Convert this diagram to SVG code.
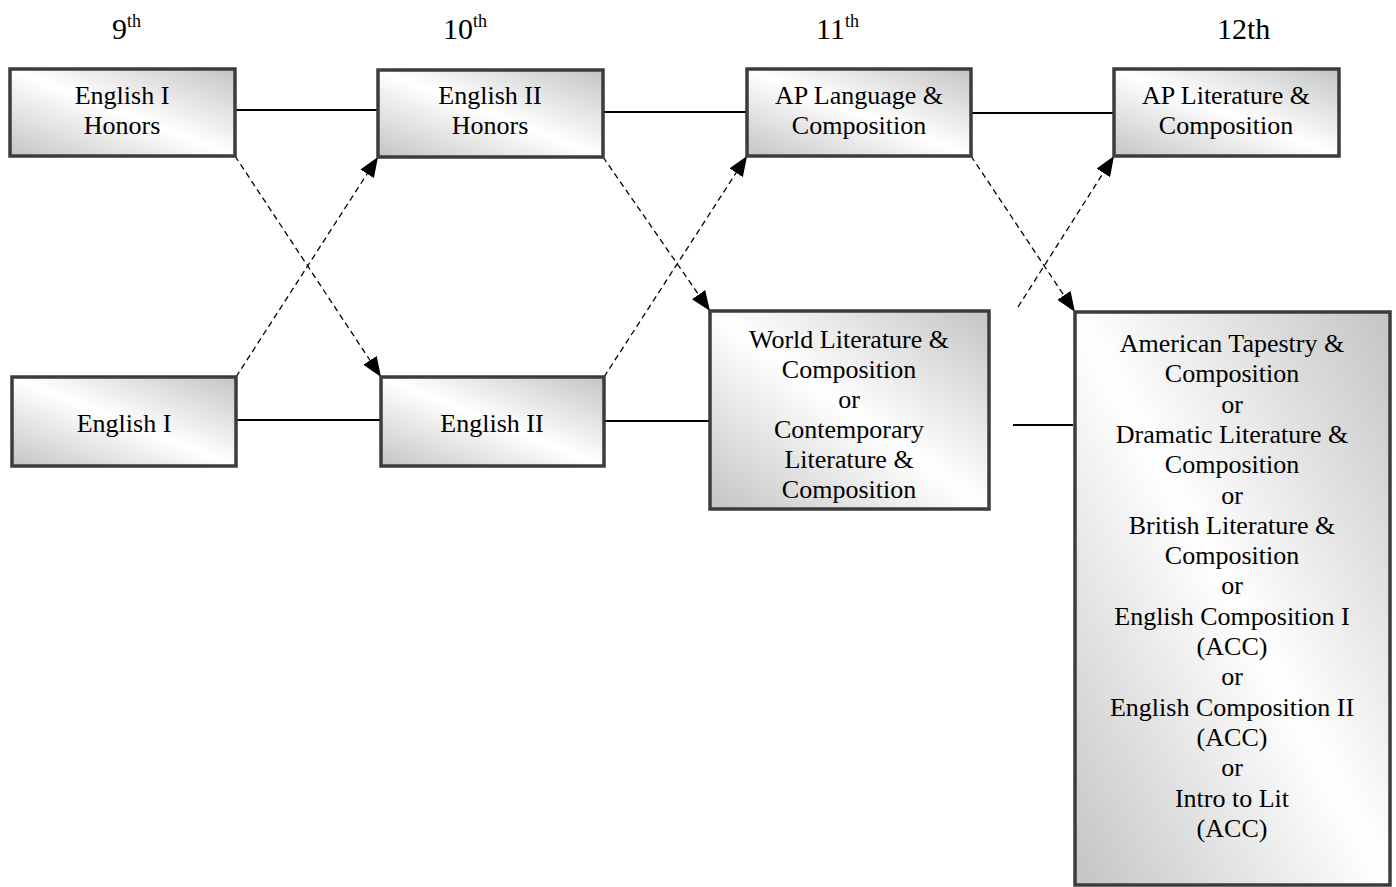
<svg xmlns="http://www.w3.org/2000/svg" width="1396" height="887" viewBox="0 0 1396 887">
<defs>
<linearGradient id="g" x1="0" y1="1" x2="1" y2="0">
<stop offset="0" stop-color="#c4c4c4"/>
<stop offset="0.5" stop-color="#ffffff"/>
<stop offset="1" stop-color="#c4c4c4"/>
</linearGradient>
<marker id="ah" viewBox="0 0 20 16" refX="20" refY="8" markerWidth="20" markerHeight="16" markerUnits="userSpaceOnUse" orient="auto">
<path d="M0,0 L20,8 L0,16 Z" fill="#000"/>
</marker>
<style>
.box{fill:url(#g);stroke:#3c3c3c;stroke-width:3.5}
.inner{fill:none;stroke:#9a9a9a;stroke-width:1}
.t{font-family:"Liberation Serif","Times New Roman",serif;font-size:26px;fill:#000;text-anchor:middle}
.h{font-family:"Liberation Serif","Times New Roman",serif;font-size:30px;fill:#000}
.sup{font-size:18px}
.solid{stroke:#000;stroke-width:2;fill:none}
.dash{stroke:#000;stroke-width:1.3;fill:none;stroke-dasharray:6,4;marker-end:url(#ah)}
</style>
</defs>
<rect width="1396" height="887" fill="#fff"/>
<g id="headings">
<text class="h" x="112" y="39">9<tspan class="sup" dy="-12">th</tspan></text>
<text class="h" x="443" y="39">10<tspan class="sup" dy="-12">th</tspan></text>
<text class="h" x="816" y="39">11<tspan class="sup" dy="-12">th</tspan></text>
<text class="h" x="1217" y="39">12th</text>
</g>
<g id="connectors">
<line class="solid" x1="235" y1="110" x2="378" y2="110"/>
<line class="solid" x1="603" y1="112" x2="747" y2="112"/>
<line class="solid" x1="971" y1="113" x2="1114" y2="113"/>
<line class="solid" x1="236" y1="420" x2="381" y2="420"/>
<line class="solid" x1="604" y1="421" x2="710" y2="421"/>
<line class="solid" x1="1013" y1="425" x2="1073" y2="425"/>
<line class="dash" x1="235" y1="156" x2="381" y2="377"/>
<line class="dash" x1="236" y1="377" x2="378" y2="157"/>
<line class="dash" x1="603" y1="157" x2="710" y2="311"/>
<line class="dash" x1="604" y1="377" x2="747" y2="156"/>
<line class="dash" x1="971" y1="156" x2="1075" y2="312"/>
<line class="dash" x1="1018" y1="307" x2="1114" y2="156"/>
</g>
<g id="n-eng1h">
<rect class="box" x="10" y="69" width="225" height="87"/>
<text class="t" x="122" y="104">English I</text>
<text class="t" x="122" y="134">Honors</text>
</g>
<g id="n-eng2h">
<rect class="box" x="378" y="70" width="225" height="87"/>
<text class="t" x="490" y="104">English II</text>
<text class="t" x="490" y="134">Honors</text>
</g>
<g id="n-aplang">
<rect class="box" x="747" y="69" width="224" height="87"/>
<text class="t" x="859" y="104">AP Language &amp;</text>
<text class="t" x="859" y="134">Composition</text>
</g>
<g id="n-aplit">
<rect class="box" x="1114" y="69" width="225" height="87"/>
<text class="t" x="1226" y="104">AP Literature &amp;</text>
<text class="t" x="1226" y="134">Composition</text>
</g>
<g id="n-eng1">
<rect class="box" x="12" y="377" width="224" height="89"/>
<text class="t" x="124" y="432">English I</text>
</g>
<g id="n-eng2">
<rect class="box" x="381" y="377" width="223" height="89"/>
<text class="t" x="492" y="432">English II</text>
</g>
<g id="n-worldlit">
<rect class="box" x="710" y="311" width="279" height="198"/>
<text class="t" x="849" y="348">World Literature &amp;</text>
<text class="t" x="849" y="378">Composition</text>
<text class="t" x="849" y="408">or</text>
<text class="t" x="849" y="438">Contemporary</text>
<text class="t" x="849" y="468">Literature &amp;</text>
<text class="t" x="849" y="498">Composition</text>
</g>
<g id="n-senior">
<rect class="box" x="1075" y="312" width="315" height="573"/>
<g class="t">
<text class="t" x="1232" y="352">American Tapestry &amp;</text>
<text class="t" x="1232" y="382.3">Composition</text>
<text class="t" x="1232" y="412.6">or</text>
<text class="t" x="1232" y="442.9">Dramatic Literature &amp;</text>
<text class="t" x="1232" y="473.2">Composition</text>
<text class="t" x="1232" y="503.5">or</text>
<text class="t" x="1232" y="533.8">British Literature &amp;</text>
<text class="t" x="1232" y="564.1">Composition</text>
<text class="t" x="1232" y="594.4">or</text>
<text class="t" x="1232" y="624.7">English Composition I</text>
<text class="t" x="1232" y="655">(ACC)</text>
<text class="t" x="1232" y="685.3">or</text>
<text class="t" x="1232" y="715.6">English Composition II</text>
<text class="t" x="1232" y="745.9">(ACC)</text>
<text class="t" x="1232" y="776.2">or</text>
<text class="t" x="1232" y="806.5">Intro to Lit</text>
<text class="t" x="1232" y="836.8">(ACC)</text>
</g>
</g>
</svg>
